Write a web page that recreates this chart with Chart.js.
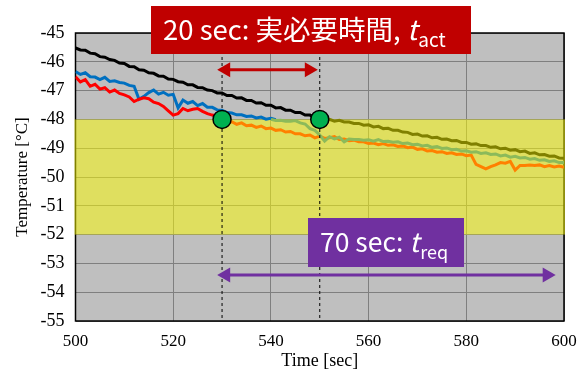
<!DOCTYPE html>
<html><head><meta charset="utf-8">
<script src="https://cdn.jsdelivr.net/npm/chart.js@4/dist/chart.umd.min.js"></script>
<style>html,body{margin:0;padding:0;background:#fff;}#wrap{width:587px;height:372px;}</style>
</head><body><div id="wrap"><canvas id="c" width="587" height="372"></canvas></div>
<script>
// ---- data (time step 1 s from each start) ----
const xTickValues = [500, 520, 540, 560, 580, 600];
const yTickValues = [-45, -46, -47, -48, -49, -50, -51, -52, -53, -54, -55];

const blackStart = 500;
const blackTemp = [-45.52,-45.59,-45.60,-45.70,-45.72,-45.82,-45.84,-45.92,-45.95,-46.04,-46.06,-46.16,-46.17,-46.28,-46.29,-46.38,-46.40,-46.49,-46.50,-46.60,-46.61,-46.69,-46.71,-46.80,-46.80,-46.89,-46.90,-46.98,-47.00,-47.08,-47.08,-47.17,-47.17,-47.26,-47.25,-47.34,-47.34,-47.43,-47.42,-47.51,-47.51,-47.60,-47.59,-47.68,-47.68,-47.76,-47.76,-47.85,-47.85,-47.94,-48.00];

const oliveStart = 550;
const oliveTemp = [-48.00,-48.03,-48.00,-48.06,-48.03,-48.09,-48.09,-48.14,-48.14,-48.20,-48.19,-48.26,-48.24,-48.32,-48.31,-48.38,-48.38,-48.44,-48.45,-48.52,-48.51,-48.58,-48.57,-48.64,-48.62,-48.69,-48.68,-48.74,-48.73,-48.80,-48.80,-48.86,-48.85,-48.91,-48.91,-48.97,-48.95,-49.02,-49.00,-49.07,-49.05,-49.12,-49.10,-49.18,-49.16,-49.23,-49.22,-49.28,-49.27,-49.34,-49.35];

const blueStart = 500;
const blueTemp = [-46.34,-46.44,-46.38,-46.52,-46.53,-46.62,-46.54,-46.68,-46.66,-46.72,-46.74,-46.82,-46.85,-47.30,-47.20,-47.07,-46.98,-47.12,-47.06,-47.16,-47.13,-47.60,-47.33,-47.44,-47.38,-47.52,-47.45,-47.58,-47.58,-47.67,-47.68,-47.76,-47.78,-47.84,-47.84,-47.90,-47.88,-47.95,-47.92,-47.99,-47.96,-48.01];

const redStart = 500;
const redTemp = [-46.52,-46.70,-46.62,-46.85,-46.78,-46.95,-46.90,-47.05,-46.98,-47.10,-47.15,-47.22,-47.38,-47.30,-47.25,-47.28,-47.40,-47.45,-47.55,-47.70,-47.85,-47.80,-47.62,-47.70,-47.65,-47.62,-47.72,-47.80,-47.85,-47.88,-47.98];

const greenStart = 540;
const greenTemp = [-48.00,-48.04,-48.03,-48.06,-48.06,-48.04,-48.12,-48.16,-48.32,-48.38,-48.54,-48.75,-48.60,-48.68,-48.62,-48.78,-48.68,-48.70,-48.70,-48.72,-48.71,-48.76,-48.70,-48.77,-48.76,-48.79,-48.78,-48.84,-48.82,-48.88,-48.86,-48.92,-48.90,-48.97,-48.94,-49.01,-48.99,-49.05,-49.04,-49.10,-49.09,-49.14,-49.12,-49.18,-49.16,-49.22,-49.20,-49.27,-49.24,-49.31,-49.28,-49.34,-49.32,-49.38,-49.36,-49.42,-49.40,-49.46,-49.44,-49.50,-49.50];

const orangeStart = 530;
const orangeTemp = [-48.02,-48.10,-48.08,-48.17,-48.12,-48.22,-48.20,-48.28,-48.23,-48.32,-48.30,-48.38,-48.36,-48.44,-48.42,-48.50,-48.50,-48.57,-48.54,-48.64,-48.58,-48.66,-48.64,-48.60,-48.70,-48.68,-48.74,-48.72,-48.78,-48.78,-48.84,-48.82,-48.88,-48.84,-48.90,-48.88,-48.94,-48.92,-48.98,-48.96,-49.04,-49.02,-49.10,-49.08,-49.14,-49.12,-49.18,-49.16,-49.22,-49.20,-49.26,-49.24,-49.56,-49.64,-49.72,-49.64,-49.58,-49.50,-49.52,-49.46,-49.76,-49.60,-49.60,-49.58,-49.60,-49.58,-49.64,-49.60,-49.65,-49.62,-49.66];

const markerTimes = [530, 550];
const markerTemps = [-48, -48];
const bandLimits = [-48, -52];          // yellow target band
const actArrow = [529, 549.6, -46.28];  // t from, t to, temperature
const reqArrow = [529, 598.3, -53.4];

function series(start, vals){ return vals.map((v,i)=>({x:start+i, y:v})); }

const bgPlugin = {
  id:'bg',
  beforeDraw(chart){
    const {ctx, chartArea:a} = chart;
    ctx.save(); ctx.fillStyle='#BFBFBF';
    ctx.fillRect(a.left, a.top, a.right-a.left, a.bottom-a.top);
    ctx.restore();
  },
  beforeDatasetsDraw(chart){
    const {ctx, chartArea:a, scales:{y}} = chart;
    ctx.save();
    ctx.strokeStyle='#000'; ctx.lineWidth=1.5;
    ctx.strokeRect(a.left, a.top, a.right-a.left, a.bottom-a.top);
    const y1 = y.getPixelForValue(bandLimits[0]), y2 = y.getPixelForValue(bandLimits[1]);
    ctx.fillStyle='rgba(255,255,0,0.5)';
    ctx.fillRect(a.left-1, y1, a.right-a.left+2, y2-y1);
    ctx.restore();
  },
  afterDatasetsDraw(chart){
    const {ctx, scales:{x,y}} = chart;
    function arrow(spec, color){
      const x1=x.getPixelForValue(spec[0]), x2=x.getPixelForValue(spec[1]), yy=y.getPixelForValue(spec[2]);
      const hl=13, hw=7.5;
      ctx.save(); ctx.strokeStyle=color; ctx.fillStyle=color; ctx.lineWidth=3;
      ctx.beginPath(); ctx.moveTo(x1+hl-2, yy); ctx.lineTo(x2-hl+2, yy); ctx.stroke();
      ctx.beginPath(); ctx.moveTo(x1, yy); ctx.lineTo(x1+hl, yy-hw); ctx.lineTo(x1+hl, yy+hw); ctx.closePath(); ctx.fill();
      ctx.beginPath(); ctx.moveTo(x2, yy); ctx.lineTo(x2-hl, yy-hw); ctx.lineTo(x2-hl, yy+hw); ctx.closePath(); ctx.fill();
      ctx.restore();
    }
    arrow(actArrow, '#C00000');
    arrow(reqArrow, '#7030A0');
    function box(bx, by, bw, bh, color, tx, base, size, main, sub){
      ctx.save();
      ctx.fillStyle=color; ctx.fillRect(bx, by, bw, bh);
      ctx.fillStyle='#fff'; ctx.textBaseline='alphabetic'; ctx.textAlign='left';
      const fam = '"Noto Sans CJK JP", "Noto Sans", sans-serif';
      ctx.font = size+'px '+fam;
      ctx.fillText(main, tx, base);
      let cx = tx + ctx.measureText(main).width;
      ctx.font = 'italic '+size+'px '+fam;
      ctx.fillText('t', cx, base);
      cx += ctx.measureText('t').width + 1;
      ctx.font = Math.round(size*0.68)+'px '+fam;
      ctx.fillText(sub, cx, base+7);
      ctx.restore();
    }
    box(151, 6, 320, 48, '#C00000', 163, 40, 27.5, '20 sec: 実必要時間, ', 'act');
    box(308, 218, 156, 49, '#7030A0', 320, 252, 26.5, '70 sec: ', 'req');
  }
};

const lineDs = (label, data, color) => ({label, data, borderColor:color, backgroundColor:color, borderWidth:3, pointRadius:0, showLine:true, tension:0, fill:false});

new Chart(document.getElementById('c'), {
  type:'scatter',
  data:{datasets:[
    {label:'markers', data: markerTimes.map((t,i)=>({x:t,y:markerTemps[i]})), pointRadius:9, pointHoverRadius:9, pointBackgroundColor:'#00B050', pointBorderColor:'#000', pointBorderWidth:1.5, showLine:false},
    {label:'d1', data:[{x:markerTimes[0],y:yTickValues[0]},{x:markerTimes[0],y:yTickValues[yTickValues.length-1]}], borderColor:'#000', borderWidth:1, borderDash:[3,3], pointRadius:0, showLine:true},
    {label:'d2', data:[{x:markerTimes[1],y:yTickValues[0]},{x:markerTimes[1],y:yTickValues[yTickValues.length-1]}], borderColor:'#000', borderWidth:1, borderDash:[3,3], pointRadius:0, showLine:true},
    lineDs('olive', series(oliveStart, oliveTemp), '#808000'),
    lineDs('black', series(blackStart, blackTemp), '#000000'),
    lineDs('green', series(greenStart, greenTemp), '#8CBA5A'),
    lineDs('orange', series(orangeStart, orangeTemp), '#FF8000'),
    lineDs('red', series(redStart, redTemp), '#FF0000'),
    lineDs('blue', series(blueStart, blueTemp), '#0070C0')
  ]},
  options:{
    responsive:false, animation:false, devicePixelRatio:1,
    layout:{padding:{left:0, right:23, top:33, bottom:0}, autoPadding:false},
    plugins:{legend:{display:false}, tooltip:{enabled:false}},
    scales:{
      x:{type:'linear', min:500, max:600,
        afterBuildTicks(s){ s.ticks = xTickValues.map(v=>({value:v})); },
        afterFit(s){ s.height = 51; },
        grid:{color:'#7F7F7F', lineWidth:1, drawTicks:false},
        border:{display:false},
        ticks:{color:'#000', padding:10, font:{family:'"Liberation Serif", serif', size:17}, maxRotation:0},
        title:{display:true, text:'Time [sec]', color:'#000', font:{family:'"Liberation Serif", serif', size:18}, padding:{top:0,bottom:0}}
      },
      y:{type:'linear', min:-55, max:-45,
        afterBuildTicks(s){ s.ticks = yTickValues.map(v=>({value:v})); },
        afterFit(s){ s.width = 75.5; },
        grid:{color:'#7F7F7F', lineWidth:1, drawTicks:false},
        border:{display:false},
        ticks:{color:'#000', padding:11, font:{family:'"Liberation Serif", serif', size:18}},
        title:{display:true, text:'Temperature [°C]', color:'#000', font:{family:'"Liberation Serif", serif', size:17}, padding:{top:12,bottom:0}}
      }
    }
  },
  plugins:[bgPlugin]
});
</script></body></html>
